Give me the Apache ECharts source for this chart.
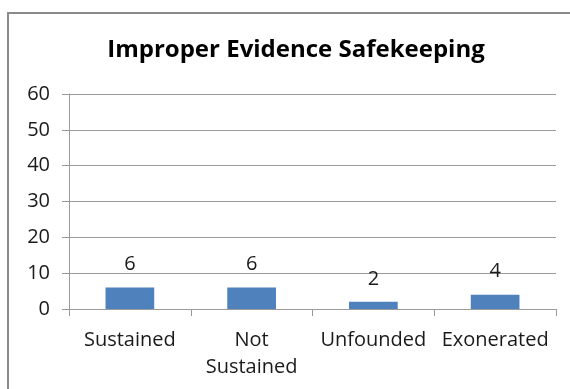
<!DOCTYPE html>
<html>
<head>
<meta charset="utf-8">
<script src="https://cdn.jsdelivr.net/npm/echarts@6/dist/echarts.min.js"></script>
<style>
  html, body { margin: 0; padding: 0; background: #fff; }
  #chart { width: 570px; height: 389px; }
</style>
</head>
<body>
<div id="chart"></div>
<script>
// Complaint dispositions for evidence-handling allegations
const chartTitle = 'Improper Evidence Safekeeping';
const categories = ['Sustained', 'Not\nSustained', 'Unfounded', 'Exonerated'];
const counts = [6, 6, 2, 4];
const yTicks = [0, 10, 20, 30, 40, 50, 60];

const font = '"Open Sans", Lato, sans-serif';
const chart = echarts.init(document.getElementById('chart'), null, { renderer: 'canvas' });

chart.setOption({
  animation: false,
  backgroundColor: '#ffffff',
  graphic: [{
    type: 'rect',
    shape: { x: 8, y: 13, width: 600, height: 420 },
    style: { fill: 'none', stroke: '#8a8a8a', lineWidth: 2 }
  }],
  title: {
    text: chartTitle,
    left: 291,
    top: 33,
    textAlign: 'center',
    textStyle: { fontFamily: font, fontSize: 24, fontWeight: 'bold', color: '#000' }
  },
  grid: { left: 69, right: 14, top: 94, bottom: 80, containLabel: false },
  xAxis: {
    type: 'category',
    data: categories,
    axisLine: { lineStyle: { color: '#9a9a9a', width: 1 } },
    axisTick: { show: true, alignWithLabel: false, length: 7, lineStyle: { color: '#9a9a9a' } },
    axisLabel: { fontFamily: font, fontSize: 20, color: '#1a1a1a', margin: 18, lineHeight: 27, interval: 0 }
  },
  yAxis: {
    type: 'value',
    min: yTicks[0],
    max: yTicks[yTicks.length - 1],
    interval: 10,
    axisLine: { show: true, lineStyle: { color: '#9a9a9a', width: 1 } },
    axisTick: { show: true, length: 7, lineStyle: { color: '#9a9a9a' } },
    axisLabel: { fontFamily: font, fontSize: 20, color: '#1a1a1a', margin: 19 },
    splitLine: { lineStyle: { color: '#9a9a9a', width: 1 } }
  },
  series: [{
    type: 'bar',
    data: counts,
    barWidth: '40%',
    itemStyle: { color: '#4F81BD' },
    label: {
      show: true,
      position: 'top',
      distance: 13,
      fontFamily: font,
      fontSize: 20,
      color: '#1a1a1a'
    }
  }]
});
</script>
</body>
</html>
